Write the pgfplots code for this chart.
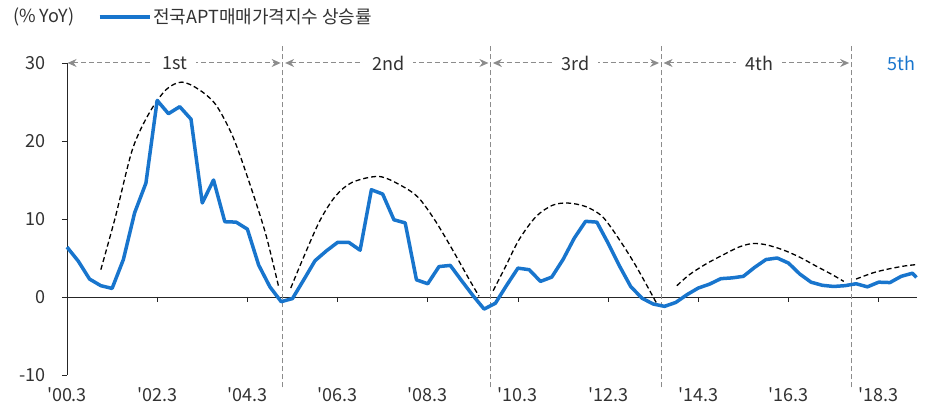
\documentclass[border=0pt]{standalone}
\usepackage{pgfplots}
\pgfplotsset{compat=1.18}
\usepackage{fontspec}
\setmainfont{Noto Sans CJK KR}
\usetikzlibrary{arrows.meta}
\definecolor{lineblue}{RGB}{24,117,205}
\definecolor{divgray}{RGB}{140,140,140}
\definecolor{txtgray}{RGB}{50,50,50}
\newcommand{\q}{\textquotesingle}
\begin{document}
\fontsize{18}{21}\selectfont
\begin{tikzpicture}
\useasboundingbox (-67pt,-34pt) rectangle (863pt,375pt);
\begin{axis}[
  at={(0pt,0pt)}, anchor=south west,
  scale only axis, width=850pt, height=312pt,
  xmin=0, xmax=75.4, ymin=-10, ymax=30,
  clip=false,
  axis x line*=bottom, axis y line*=left,
  x axis line style={draw=none},
  y axis line style={black!85, line width=0.8pt},
  xtick={0,8,16,24,32,40,48,56,64,72},
  xticklabels={{\q00.3},{\q02.3},{\q04.3},{\q06.3},{\q08.3},{\q10.3},{\q12.3},{\q14.3},{\q16.3},{\q18.3}},
  x tick style={draw=none},
  x tick label style={font=\fontsize{18}{21}\selectfont, text=txtgray, yshift=-1pt},
  ytick={-10,0,10,20,30},
  yticklabels={-10,0,10,20,30},
  y tick label style={font=\fontsize{18}{21}\selectfont, text=txtgray, xshift=-10pt},
  y tick style={black!85, line width=0.8pt},
  tick align=outside, major tick length=5pt,
  legend style={draw=none, fill=none, at={(axis description cs:0.036,1.147)}, anchor=west,
    inner sep=0pt, font=\fontsize{18}{21}\selectfont, text=txtgray},
  legend image code/.code={\draw[#1] (0pt,0pt) -- (50pt,0pt);},
]
% zero line and x ticks
\addplot[black!85, line width=0.8pt, forget plot] coordinates {(0,0) (75.4,0)};
\draw[black!85, line width=0.8pt] (axis cs:8,0) -- (axis cs:8,-0.65);
\draw[black!85, line width=0.8pt] (axis cs:16,0) -- (axis cs:16,-0.65);
\draw[black!85, line width=0.8pt] (axis cs:24,0) -- (axis cs:24,-0.65);
\draw[black!85, line width=0.8pt] (axis cs:32,0) -- (axis cs:32,-0.65);
\draw[black!85, line width=0.8pt] (axis cs:40,0) -- (axis cs:40,-0.65);
\draw[black!85, line width=0.8pt] (axis cs:48,0) -- (axis cs:48,-0.65);
\draw[black!85, line width=0.8pt] (axis cs:56,0) -- (axis cs:56,-0.65);
\draw[black!85, line width=0.8pt] (axis cs:64,0) -- (axis cs:64,-0.65);
\draw[black!85, line width=0.8pt] (axis cs:72,0) -- (axis cs:72,-0.65);
% cycle dividers
\draw[divgray, line width=1pt, dash pattern=on 5pt off 3pt] (axis cs:19.15,-11.6) -- (axis cs:19.15,32.3);
\draw[divgray, line width=1pt, dash pattern=on 5pt off 3pt] (axis cs:37.58,-11.6) -- (axis cs:37.58,32.3);
\draw[divgray, line width=1pt, dash pattern=on 5pt off 3pt] (axis cs:52.72,-11.6) -- (axis cs:52.72,32.3);
\draw[divgray, line width=1pt, dash pattern=on 5pt off 3pt] (axis cs:69.58,-11.6) -- (axis cs:69.58,32.3);
% arrows
\draw[divgray, line width=1pt, dash pattern=on 5pt off 3pt, {Stealth[length=9pt,width=8pt]}-{Stealth[length=9pt,width=8pt]}] (axis cs:0.05,30) -- (axis cs:18.95,30);
\draw[divgray, line width=1pt, dash pattern=on 5pt off 3pt, {Stealth[length=9pt,width=8pt]}-{Stealth[length=9pt,width=8pt]}] (axis cs:19.35,30) -- (axis cs:37.38,30);
\draw[divgray, line width=1pt, dash pattern=on 5pt off 3pt, {Stealth[length=9pt,width=8pt]}-{Stealth[length=9pt,width=8pt]}] (axis cs:37.78,30) -- (axis cs:52.52,30);
\draw[divgray, line width=1pt, dash pattern=on 5pt off 3pt, {Stealth[length=9pt,width=8pt]}-{Stealth[length=9pt,width=8pt]}] (axis cs:52.92,30) -- (axis cs:69.38,30);
\node[fill=white, inner xsep=9pt, text=txtgray] at (axis cs:9.55,30) {1st};
\node[fill=white, inner xsep=9pt, text=txtgray] at (axis cs:28.5,30) {2nd};
\node[fill=white, inner xsep=9pt, text=txtgray] at (axis cs:45.1,30) {3rd};
\node[fill=white, inner xsep=9pt, text=txtgray] at (axis cs:61.4,30) {4th};
\node[text=lineblue] at (axis cs:74.05,30) {5th};
% envelopes
\addplot[black, line width=1.3pt, dash pattern=on 5pt off 3pt, smooth, forget plot] coordinates {
(3.0,3.5) (4.3,10.3) (5.8,18.9) (7.3,23.6) (8.8,26.6) (10.2,27.55) (11.7,26.6) (13.2,24.65) (14.7,20.6) (16.1,15.0) (17.6,8.2) (18.8,1.15)};
\addplot[black, line width=1.3pt, dash pattern=on 5pt off 3pt, smooth, forget plot] coordinates {
(19.85,1.15) (20.9,4.8) (22.4,9.7) (23.8,12.9) (25.3,14.7) (27.7,15.45) (29.75,14.2) (31.2,12.7) (32.7,9.7) (34.2,6.05) (35.7,2.2) (36.55,0.1)};
\addplot[black, line width=1.3pt, dash pattern=on 5pt off 3pt, smooth, forget plot] coordinates {
(37.8,0.8) (38.9,3.9) (40.1,7.35) (41.6,10.3) (43.05,11.75) (44.4,12.05) (46.0,11.6) (47.5,10.3) (49.0,7.35) (50.5,3.9) (52.3,-0.8)};
\addplot[black, line width=1.3pt, dash pattern=on 5pt off 3pt, smooth, forget plot] coordinates {
(54.1,1.45) (55.2,2.85) (56.7,4.25) (58.2,5.4) (59.6,6.4) (60.8,6.85) (62.0,6.7) (63.5,6.05) (65.0,5.1) (66.4,4.0) (67.9,2.85) (68.9,2.0)};
\addplot[black, line width=1.3pt, dash pattern=on 5pt off 3pt, smooth, forget plot] coordinates {
(70.0,2.3) (71.5,3.1) (72.9,3.6) (74.4,4.0) (75.35,4.15)};
% main series
\addplot[lineblue, line width=3.5pt, line join=round] coordinates {
(0,6.4) (1,4.6) (2,2.3) (3,1.45) (4,1.1) (5,4.8) (6,10.8) (7,14.6) (8,25.2) (9,23.5)
(10,24.4) (11,22.8) (12,12.05) (13,15.0) (14,9.65) (15,9.6) (16,8.7) (17,4.1) (18,1.3) (19,-0.6)
(20,-0.2) (21,2.2) (22,4.65) (23,5.9) (24,7.0) (25,7.0) (26,6.0) (27,13.75) (28,13.2) (29,9.9)
(30,9.5) (31,2.2) (32,1.7) (33,3.9) (34,4.05) (35,2.1) (36,0.2) (37,-1.55) (38,-0.8) (39,1.5)
(40,3.7) (41,3.5) (42,2.0) (43,2.55) (44,4.8) (45,7.55) (46,9.7) (47,9.6) (48,6.9) (49,4.0)
(50,1.35) (51,-0.15) (52,-0.9) (53,-1.2) (54,-0.7) (55,0.3) (56,1.15) (57,1.65) (58,2.35) (59,2.45)
(60,2.65) (61,3.8) (62,4.8) (63,5.0) (64,4.35) (65,2.95) (66,1.9) (67,1.5) (68,1.35) (69,1.45)
(70,1.7) (71,1.3) (72,1.9) (73,1.85) (74,2.65) (75,3.05) (75.35,2.5)};
\addlegendentry{전국APT매매가격지수 상승률}
\node[anchor=west, inner sep=0pt, text=txtgray] at (axis description cs:-0.0635,1.147) {(\% YoY)};
\end{axis}
\end{tikzpicture}
\end{document}
